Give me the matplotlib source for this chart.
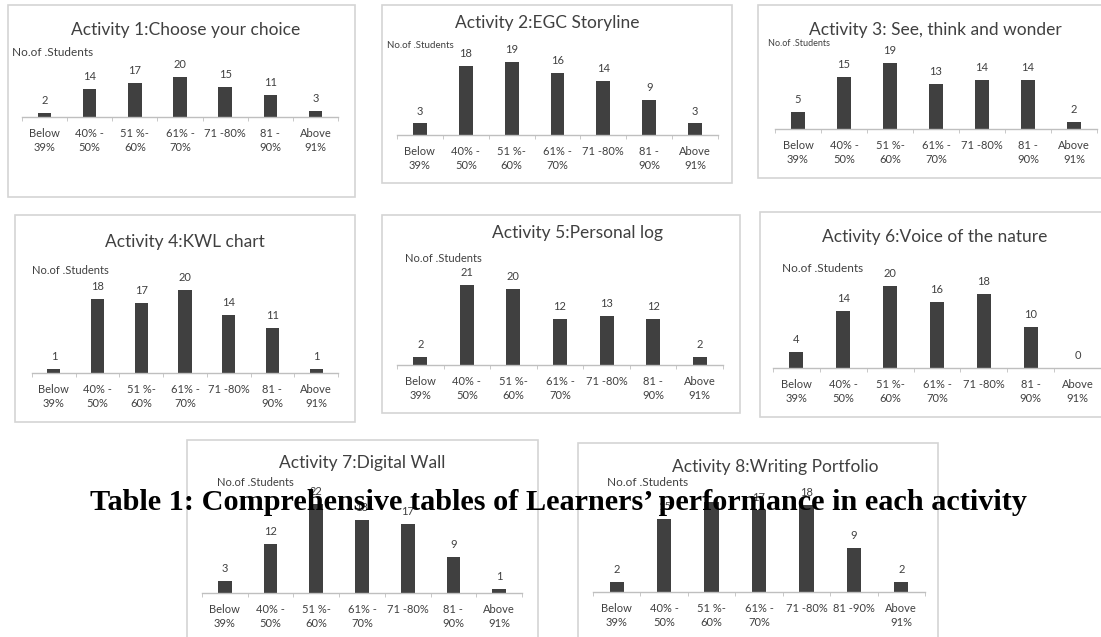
import numpy as np
import matplotlib.pyplot as plt
from matplotlib.patches import Rectangle

plt.rcParams['font.family'] = ['Lato', 'DejaVu Sans']

W, H = 1101, 637

grades = ["Below\n39%", "40% -\n50%", "51 %-\n60%", "61% -\n70%", "71 -80%", "81 -\n90%", "Above\n91%"]
grades_8 = ["Below\n39%", "40% -\n50%", "51 %-\n60%", "61% -\n70%", "71 -80%", "81 -90%", "Above\n91%"]

titles = [
    "Activity 1:Choose your choice",
    "Activity 2:EGC Storyline",
    "Activity 3: See, think and wonder",
    "Activity 4:KWL chart",
    "Activity 5:Personal log",
    "Activity 6:Voice of the nature",
    "Activity 7:Digital Wall",
    "Activity 8:Writing Portfolio",
]

act1 = [2, 14, 17, 20, 15, 11, 3]
act2 = [3, 18, 19, 16, 14, 9, 3]
act3 = [5, 15, 19, 13, 14, 14, 2]
act4 = [1, 18, 17, 20, 14, 11, 1]
act5 = [2, 21, 20, 12, 13, 12, 2]
act6 = [4, 14, 20, 16, 18, 10, 0]
act7 = [3, 12, 22, 18, 17, 9, 1]
act8 = [2, 15, 19, 17, 18, 9, 2]
counts = [act1, act2, act3, act4, act5, act6, act7, act8]

ylabel = "No.of .Students"
caption = "Table 1: Comprehensive tables of Learners\u2019 performance in each activity"

# pixel layout of each chart: frame box, axis line (x0, x1, y), px per student,
# title pos, ylabel pos and size
layout = [
    dict(box=(8, 5, 355, 197), axis=(22, 338, 117), ppu=2.0, title=(186, 30), ylab=(12, 53), ys=8.5),
    dict(box=(382, 5, 732, 183), axis=(397, 718, 135), ppu=3.85, title=(547, 23), ylab=(387, 45), ys=7),
    dict(box=(758, 5, 1104, 178), axis=(775, 1097, 129), ppu=3.5, title=(935, 30), ylab=(768, 43), ys=6.5),
    dict(box=(15, 215, 355, 422), axis=(32, 338, 373), ppu=4.13, title=(185, 242), ylab=(32, 270), ys=8),
    dict(box=(382, 215, 740, 413), axis=(397, 723, 365), ppu=3.8, title=(578, 233), ylab=(405, 258), ys=8),
    dict(box=(760, 212, 1104, 417), axis=(773, 1101, 368), ppu=4.1, title=(935, 237), ylab=(782, 268), ys=8.5),
    dict(box=(187, 440, 538, 645), axis=(202, 522, 593), ppu=4.05, title=(362, 463), ylab=(217, 483), ys=8),
    dict(box=(578, 443, 938, 645), axis=(593, 925, 592), ppu=4.85, title=(775, 467), ylab=(607, 483), ys=8.5),
]

txt = '#404040'
bar_col = '#404040'

fig = plt.figure(figsize=(W / 100, H / 100), dpi=100)


def fx(x):
    return x / W


def fy(y):
    return 1 - y / H


for k, (vals, title, lay) in enumerate(zip(counts, titles, layout)):
    bx0, by0, bx1, by1 = lay['box']
    fig.patches.append(Rectangle((fx(bx0), fy(by1)), (bx1 - bx0) / W, (by1 - by0) / H,
                                 transform=fig.transFigure, facecolor='white',
                                 edgecolor='#d4d4d4', lw=1.2, zorder=-1))

    ax0, ax1, base = lay['axis']
    top_px = 90
    ax = fig.add_axes([fx(ax0), fy(base), (ax1 - ax0) / W, top_px / H])
    ax.patch.set_visible(False)
    x = np.arange(len(vals))
    ax.bar(x, vals, width=0.3, color=bar_col)
    ax.set_xlim(-0.5, len(vals) - 0.5)
    ax.set_ylim(0, top_px / lay['ppu'])
    for xi, v in zip(x, vals):
        ax.annotate(str(v), (xi, v), xytext=(0, 5), textcoords='offset points',
                    ha='center', va='bottom', fontsize=8, color=txt)

    for s in ['top', 'right', 'left']:
        ax.spines[s].set_visible(False)
    ax.spines['bottom'].set_color('#bfbfbf')
    ax.spines['bottom'].set_linewidth(1)
    ax.set_yticks([])
    ax.set_xticks(x)
    ax.set_xticklabels(grades_8 if k == 7 else grades, fontsize=8, color=txt,
                       linespacing=1.35, va='top')
    ax.tick_params(axis='x', length=0, pad=8)
    ax.set_xticks(np.arange(-0.5, len(vals)), minor=True)
    ax.tick_params(axis='x', which='minor', length=3, color='#bfbfbf', direction='out')

    fig.text(fx(lay['title'][0]), fy(lay['title'][1]), title, ha='center', va='center',
             fontsize=12.5, color=txt)
    fig.text(fx(lay['ylab'][0]), fy(lay['ylab'][1]), ylabel, ha='left', va='center',
             fontsize=lay['ys'], color=txt)

fig.text(fx(558), fy(502), caption, ha='center', va='center', fontsize=21.8,
         family=['Liberation Serif'], weight='bold', color='black', zorder=10)

fig.savefig('out.png', dpi=100)
